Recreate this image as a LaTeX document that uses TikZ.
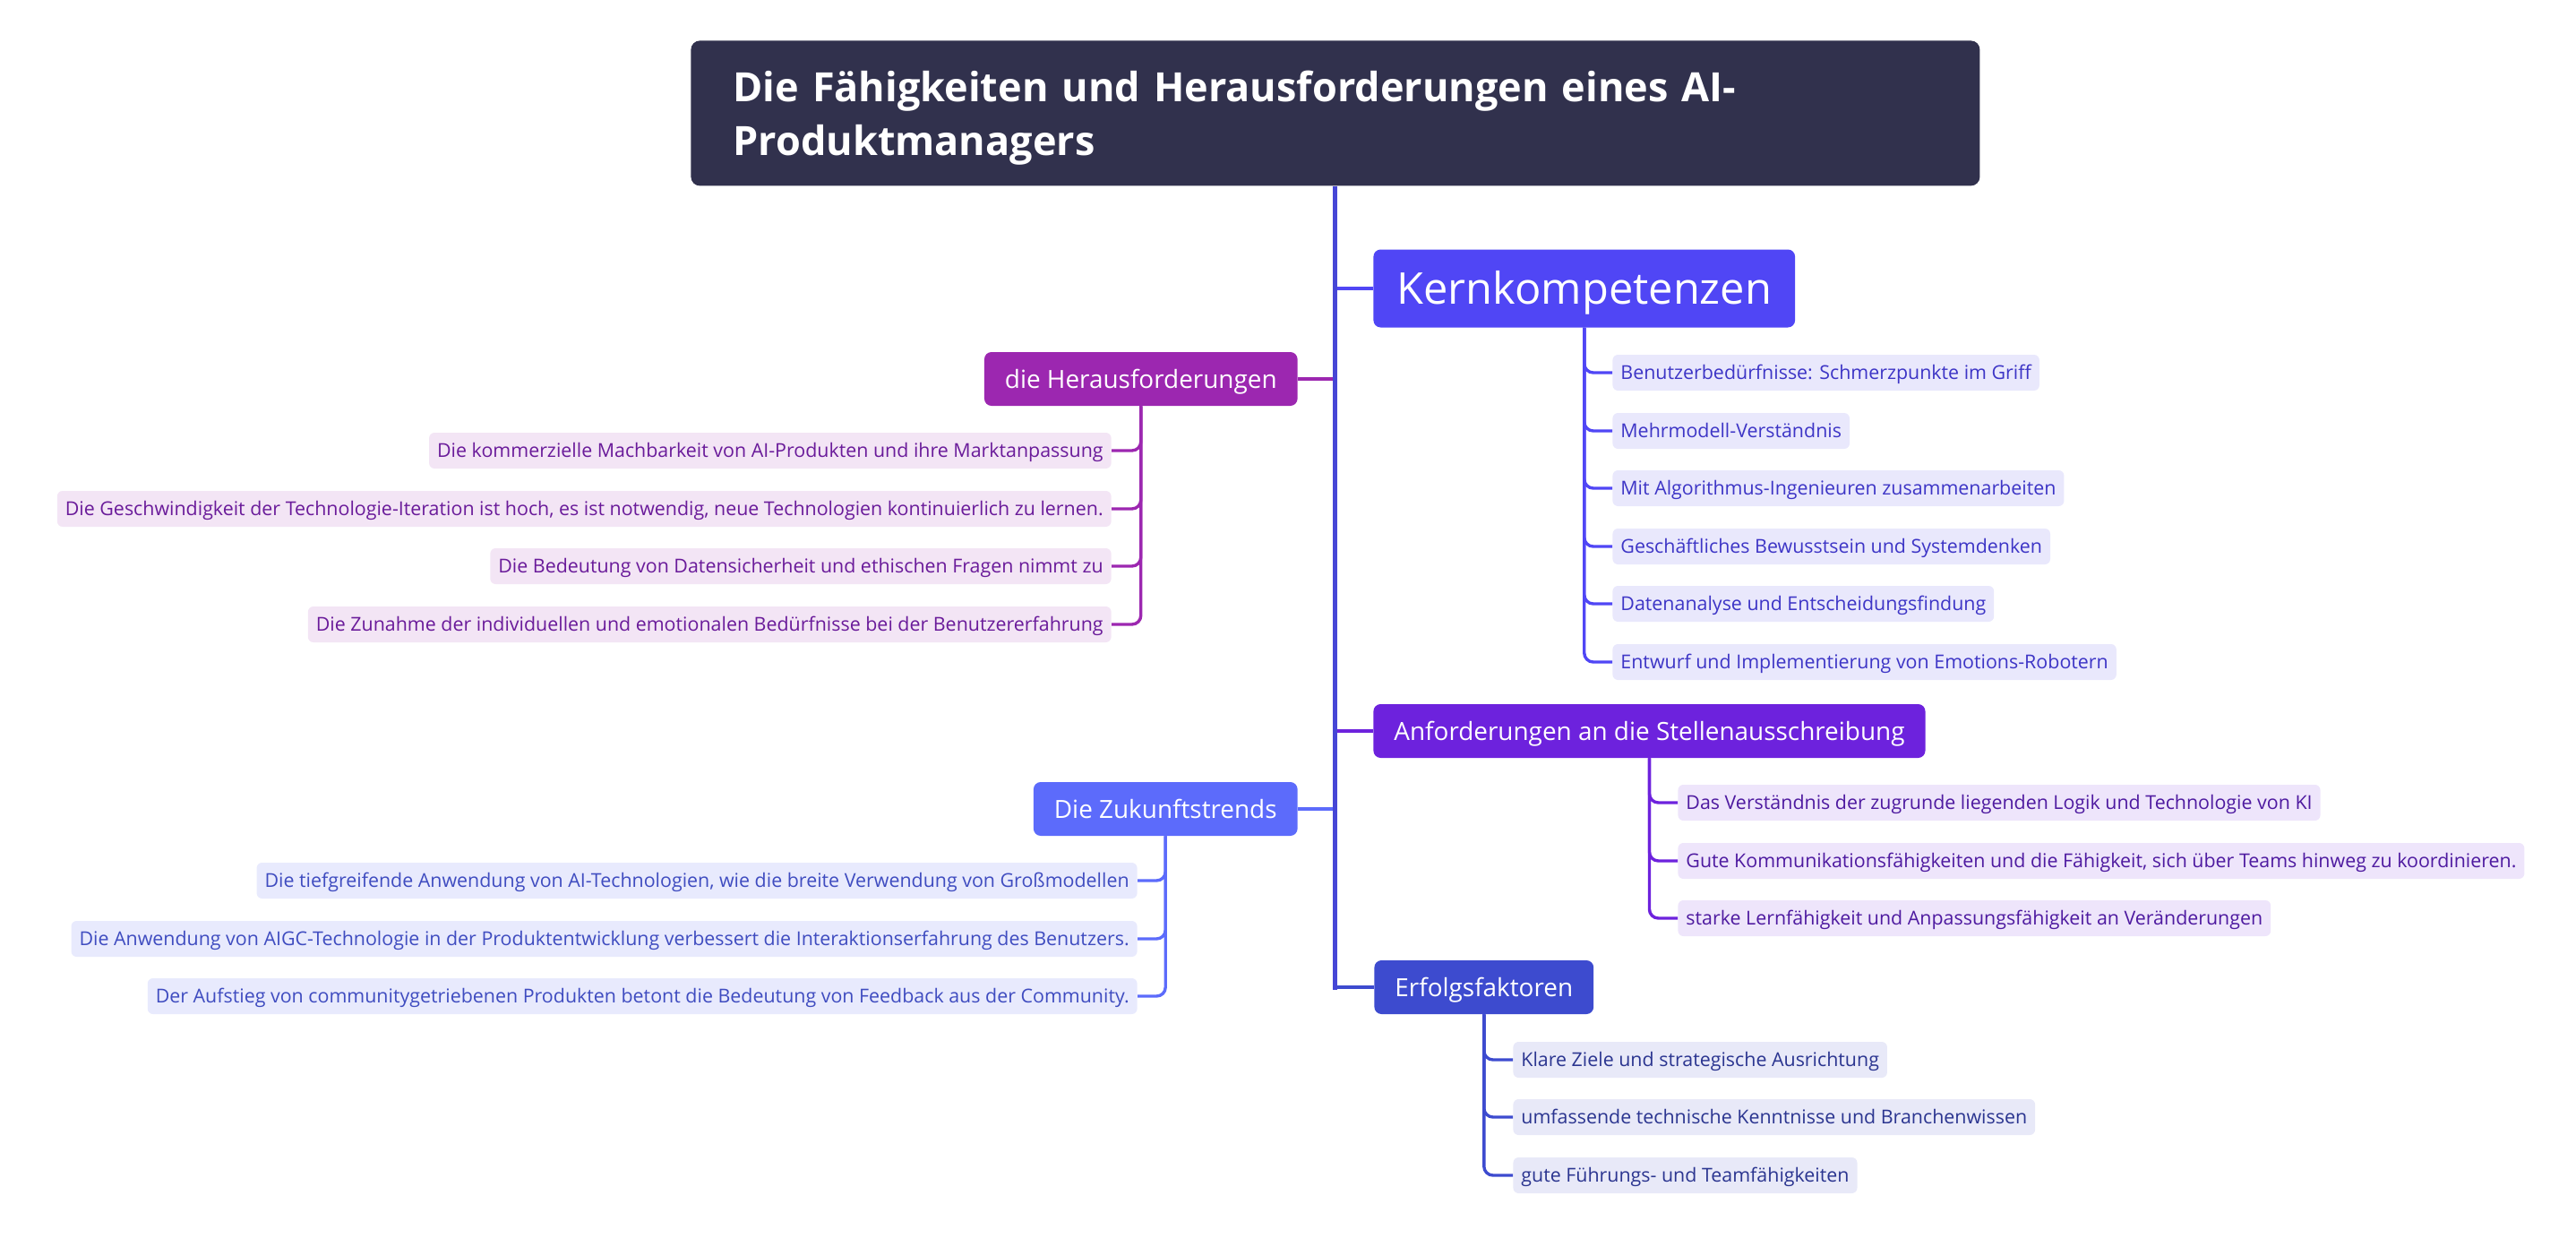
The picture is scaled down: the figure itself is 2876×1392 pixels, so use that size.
\documentclass[tikz,border=0pt]{standalone}
\usepackage{fontspec}
\setmainfont{Open Sans}
\definecolor{titlebg}{HTML}{31314D}
\definecolor{trunkc}{HTML}{4646D6}
\definecolor{kernc}{HTML}{5046F5}
\definecolor{herc}{HTML}{9C27B0}
\definecolor{zukc}{HTML}{5C6BFB}
\definecolor{anfc}{HTML}{6D22DD}
\definecolor{erfc}{HTML}{3D4BCF}
\definecolor{kernbg}{HTML}{E9E8FC}
\definecolor{kerntx}{HTML}{3D35C6}
\definecolor{herbg}{HTML}{F3E5F5}
\definecolor{hertx}{HTML}{6A1B9A}
\definecolor{zukbg}{HTML}{E8EAFD}
\definecolor{zuktx}{HTML}{3F4CC0}
\definecolor{anfbg}{HTML}{EEE5FB}
\definecolor{anftx}{HTML}{4E1AA0}
\definecolor{erfbg}{HTML}{E8E9F8}
\definecolor{erftx}{HTML}{2B3590}
\begin{document}
\begin{tikzpicture}[x=0.5pt,y=-0.5pt,
  titlebox/.style={fill=titlebg, text=white, rounded corners=5pt, inner xsep=23.5pt,
    minimum width=719.5pt, minimum height=81pt, text width=672.5pt, align=left,
    text height=16pt, text depth=29pt,
    font=\fontsize{22.5}{30}\selectfont\bfseries},
  lone/.style={rounded corners=4pt, inner xsep=11.5pt, inner ysep=0pt, minimum height=30pt,
    text=white, text height=10pt, text depth=0pt, font=\fontsize{13.95}{16}\selectfont},
  kernbox/.style={rounded corners=4pt, inner xsep=13pt, inner ysep=0pt, minimum height=43.5pt,
    text=white, text height=17.3pt, text depth=0pt, font=\fontsize{24.4}{28}\selectfont},
  leaf/.style={rounded corners=3pt, inner xsep=4.5pt, inner ysep=0pt, minimum height=20pt,
    text height=7.6pt, text depth=0pt, font=\fontsize{10.7}{12}\selectfont},
  link/.style={line width=1.7pt, rounded corners=5pt},
  branch/.style={line width=2pt},
  trunk/.style={line width=2.5pt, trunkc}]
\useasboundingbox (0,0) rectangle (2876,1392);

% root
\node[titlebox, anchor=north west] (root) at (771,45)
  {Die Fähigkeiten und Herausforderungen eines AI-\\Produktmanagers};

% level one
\node[kernbox, fill=kernc, anchor=west] (kern) at (1533,322) {Kernkompetenzen};
\node[lone, fill=herc, anchor=east] (her) at (1449,423) {die Herausforderungen};
\node[lone, fill=anfc, anchor=west] (anf) at (1533,816) {Anforderungen an die Stellenausschreibung};
\node[lone, fill=zukc, anchor=east] (zuk) at (1449,903) {Die Zukunftstrends};
\node[lone, fill=erfc, anchor=west] (erf) at (1534,1102) {Erfolgsfaktoren};

% Kernkompetenzen leaves
\begin{scope}[every node/.style={leaf, fill=kernbg, text=kerntx, anchor=west}]
\node (k1) at (1800,416) {Benutzerbedürfnisse: Schmerzpunkte im Griff};
\node (k2) at (1800,481) {Mehrmodell-Verständnis};
\node (k3) at (1800,545) {Mit Algorithmus-Ingenieuren zusammenarbeiten};
\node (k4) at (1800,610) {Geschäftliches Bewusstsein und Systemdenken};
\node (k5) at (1800,674) {Datenanalyse und Entscheidungsfindung};
\node (k6) at (1800,739) {Entwurf und Implementierung von Emotions-Robotern};
\end{scope}

% Herausforderungen leaves
\begin{scope}[every node/.style={leaf, fill=herbg, text=hertx, anchor=east}]
\node (h1) at (1241,503) {Die kommerzielle Machbarkeit von AI-Produkten und ihre Marktanpassung};
\node (h2) at (1241,568) {Die Geschwindigkeit der Technologie-Iteration ist hoch, es ist notwendig, neue Technologien kontinuierlich zu lernen.};
\node (h3) at (1241,632) {Die Bedeutung von Datensicherheit und ethischen Fragen nimmt zu};
\node (h4) at (1241,697) {Die Zunahme der individuellen und emotionalen Bedürfnisse bei der Benutzererfahrung};
\end{scope}

% Anforderungen leaves
\begin{scope}[every node/.style={leaf, fill=anfbg, text=anftx, anchor=west}]
\node (a1) at (1873,896) {Das Verständnis der zugrunde liegenden Logik und Technologie von KI};
\node (a2) at (1873,961) {Gute Kommunikationsfähigkeiten und die Fähigkeit, sich über Teams hinweg zu koordinieren.};
\node (a3) at (1873,1025) {starke Lernfähigkeit und Anpassungsfähigkeit an Veränderungen};
\end{scope}

% Zukunftstrends leaves
\begin{scope}[every node/.style={leaf, fill=zukbg, text=zuktx, anchor=east}]
\node (z1) at (1270,983) {Die tiefgreifende Anwendung von AI-Technologien, wie die breite Verwendung von Großmodellen};
\node (z2) at (1270,1048) {Die Anwendung von AIGC-Technologie in der Produktentwicklung verbessert die Interaktionserfahrung des Benutzers.};
\node (z3) at (1270,1112) {Der Aufstieg von communitygetriebenen Produkten betont die Bedeutung von Feedback aus der Community.};
\end{scope}

% Erfolgsfaktoren leaves
\begin{scope}[every node/.style={leaf, fill=erfbg, text=erftx, anchor=west}]
\node (e1) at (1689,1183) {Klare Ziele und strategische Ausrichtung};
\node (e2) at (1689,1247) {umfassende technische Kenntnisse und Branchenwissen};
\node (e3) at (1689,1312) {gute Führungs- und Teamfähigkeiten};
\end{scope}

% branch connectors
\draw[branch, kernc] (root.south |- kern.west) -- (kern.west);
\draw[branch, herc] (root.south |- her.east) -- (her.east);
\draw[branch, anfc] (root.south |- anf.west) -- (anf.west);
\draw[branch, zukc] (root.south |- zuk.east) -- (zuk.east);
\draw[branch, erfc] (root.south |- erf.west) -- (erf.west);
% trunk
\coordinate (trunkend) at (root.south |- erf.west);
\draw[trunk] (root.south) -- ([yshift=-1.25pt]trunkend);

% leaf connectors
\foreach \c in {k1,k2,k3,k4,k5,k6} \draw[link, kernc] (kern.south) |- (\c.west);
\foreach \c in {h1,h2,h3,h4} \draw[link, herc] (her.south) |- (\c.east);
\foreach \c in {a1,a2,a3} \draw[link, anfc] (anf.south) |- (\c.west);
\foreach \c in {z1,z2,z3} \draw[link, zukc] (zuk.south) |- (\c.east);
\foreach \c in {e1,e2,e3} \draw[link, erfc] (erf.south) |- (\c.west);
\end{tikzpicture}
\end{document}
